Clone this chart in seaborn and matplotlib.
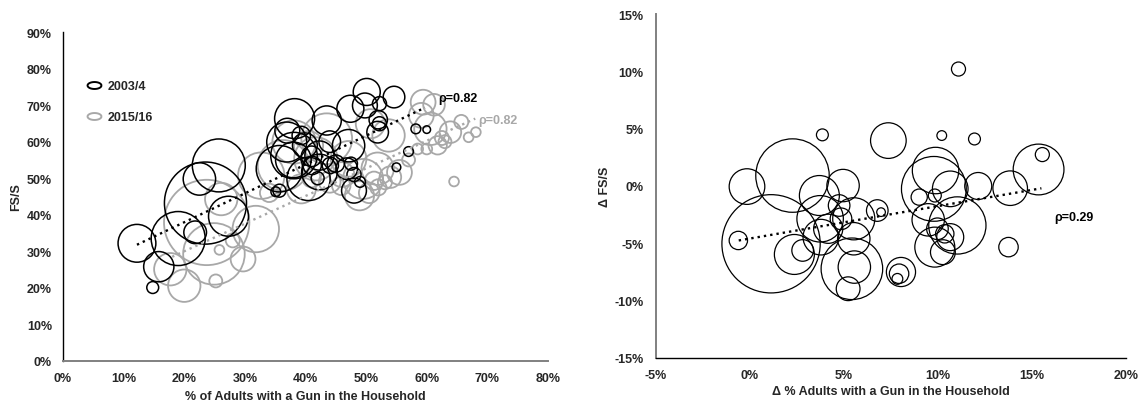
import numpy as np
import pandas as pd
import matplotlib
matplotlib.use("Agg")
import matplotlib.pyplot as plt
import seaborn as sns
from matplotlib.lines import Line2D
from matplotlib.path import Path
from matplotlib.ticker import PercentFormatter

# ---------------- data: left panel (2003/4) ----------------
gun_03 = [12.2, 15.8, 14.8, 19.0, 23.5, 22.5, 25.7, 21.8, 27.3, 38.2, 43.5, 35.7, 36.9, 38.1,
          40.5, 39.9, 35.1, 35.7, 42.3, 47.1, 47.4, 48.0, 46.8, 50.1, 49.8, 52.2, 54.6, 51.9,
          52.2, 55.0, 57.0, 58.2, 60.0, 42.3, 39.3, 41.1, 44.1, 48.0, 47.5, 41.0, 44.0, 38.0,
          45.0, 42.0, 49.0, 37.0, 52.0]
fss_03 = [32.2, 25.8, 20.1, 33.5, 43.2, 49.8, 53.5, 35.2, 39.6, 66.3, 65.8, 52.6, 59.9, 56.2,
          49.8, 59.0, 46.3, 46.6, 51.7, 58.9, 69.0, 46.6, 52.6, 73.6, 69.9, 70.4, 72.2, 62.6,
          64.9, 53.0, 57.3, 63.5, 63.3, 56.2, 61.7, 53.5, 53.5, 51.0, 54.0, 56.0, 60.0, 55.0,
          54.0, 50.0, 49.0, 63.0, 66.0]
pop_03 = [35, 28, 11, 50, 76, 30, 49, 21, 37, 37, 27, 43, 37, 43,
          40, 23, 9, 12, 33, 30, 25, 23, 20, 25, 23, 13, 20, 20,
          13, 8, 9, 9, 7, 27, 17, 17, 15, 13, 12, 19, 20, 33,
          16, 12, 10, 23, 17]

# ---------------- data: left panel (2015/16) ----------------
gun_15 = [17.7, 20.0, 23.7, 24.9, 25.8, 25.2, 31.8, 29.7, 26.1, 32.7, 38.1, 39.3, 43.5, 41.7,
          48.9, 47.1, 49.5, 51.9, 54.0, 50.7, 53.7, 55.5, 59.4, 61.2, 60.6, 61.8, 63.9, 64.5,
          65.7, 66.9, 68.1, 58.5, 51.3, 53.1, 45.9, 59.1, 36.3, 40.5, 62.5, 60.0, 63.0, 52.0,
          50.5, 46.0, 44.0, 57.0, 41.0, 28.0, 34.0]
fss_15 = [25.1, 20.6, 37.9, 29.3, 30.4, 21.9, 36.1, 27.9, 44.3, 50.7, 59.9, 47.1, 60.8, 55.3,
          45.2, 55.3, 49.8, 52.6, 50.3, 64.9, 61.7, 51.6, 70.8, 70.1, 63.5, 59.0, 62.6, 49.1,
          65.4, 61.2, 62.6, 58.0, 49.3, 48.9, 47.9, 67.2, 53.5, 58.9, 61.0, 58.0, 60.0, 47.5,
          46.0, 51.0, 49.0, 55.0, 50.0, 33.0, 46.0]
pop_15 = [30, 30, 79, 57, 9, 12, 43, 23, 30, 43, 40, 27, 47, 40,
          27, 33, 37, 30, 20, 27, 30, 23, 23, 20, 30, 17, 20, 9,
          13, 9, 9, 10, 17, 13, 17, 23, 47, 27, 13, 10, 12, 15,
          19, 23, 20, 12, 17, 13, 17]

trend_x_03 = [12.2, 59.7]
trend_y_03 = [31.8, 69.3]
trend_x_15 = [18.0, 68.0]
trend_y_15 = [28.5, 66.3]
rho_left = "\u03c1=0.82"

# ---------------- data: right panel (change) ----------------
d_gun = [11.09, 3.85, 7.36, 10.2, 11.94, 15.55, 15.35, 13.84, 12.14, 9.87, 9.78, 10.65, 9.0,
         9.83, 9.48, 11.03, 9.97, 10.36, 10.65, 9.83, 10.26, 13.75, -0.16, 2.26, 1.12, -0.62,
         2.36, 2.8, 3.69, 4.95, 3.73, 4.74, 4.16, 3.77, 4.84, 5.52, 5.52, 5.42, 5.55, 5.22,
         6.77, 6.97, 8.03, 7.93, 7.84]
d_fss = [10.2, 4.46, 3.96, 4.4, 4.1, 2.74, 1.44, -0.19, 0.0, 1.35, -0.25, -0.25, -0.97,
         -0.83, -2.95, -3.44, -3.73, -4.17, -4.46, -5.33, -5.77, -5.33, -0.05, 0.91, -5.04,
         -4.75, -5.97, -5.62, -0.83, 0.04, -2.86, -1.7, -3.73, -4.46, -2.86, -2.86, -4.6,
         -7.22, -7.07, -8.96, -2.14, -2.28, -7.5, -7.65, -8.1]
d_pop = [13, 11, 33, 9, 11, 13, 47, 32, 25, 43, 60, 33, 15,
         12, 30, 53, 20, 17, 25, 37, 23, 18, 33, 68, 91, 17,
         37, 20, 37, 30, 43, 20, 27, 33, 20, 39, 30, 57, 30, 22,
         20, 8, 27, 18, 10]
trend_dx = [-0.6, 15.5]
trend_dy = [-4.75, -0.2]
rho_right = "\u03c1=0.29"

left_xticks = [0, 10, 20, 30, 40, 50, 60, 70, 80]
left_yticks = [0, 10, 20, 30, 40, 50, 60, 70, 80, 90]
right_xticks = [-5, 0, 5, 10, 15, 20]
right_yticks = [-15, -10, -5, 0, 5, 10, 15]

# ---------------- styling ----------------
sns.set_theme(style="white")
plt.rcParams['font.family'] = ['Liberation Sans', 'DejaVu Sans']
plt.rcParams['font.weight'] = 'bold'
plt.rcParams['axes.unicode_minus'] = False

DPI = 100
FS = 9
fig = plt.figure(figsize=(11.4, 4.02), dpi=DPI)
axL = fig.add_axes([63 / 1140, 40 / 402, 485 / 1140, 329 / 402])
axR = fig.add_axes([656 / 1140, 43 / 402, 470 / 1140, 344 / 402])

GRAY = "#a8a8a8"
SPINE_GRAY = "#808080"
DOTS = (0, (1, 1.7))
SCALE = 1.08


def area(px_list):
    return [(p * SCALE * 72.0 / DPI) ** 2 for p in px_list]


df03 = pd.DataFrame({"gun": gun_03, "fss": fss_03})
df15 = pd.DataFrame({"gun": gun_15, "fss": fss_15})
dfd = pd.DataFrame({"gun": d_gun, "fss": d_fss})

sns.scatterplot(data=df15, x="gun", y="fss", s=area(pop_15), facecolors="none",
                edgecolor=GRAY, linewidth=1.3, ax=axL, zorder=2)
sns.scatterplot(data=df03, x="gun", y="fss", s=area(pop_03), facecolors="none",
                edgecolor="black", linewidth=1.1, ax=axL, zorder=3)
sns.lineplot(x=trend_x_15, y=trend_y_15, ax=axL, color=GRAY, linestyle=DOTS,
             linewidth=1.7, zorder=4)
sns.lineplot(x=trend_x_03, y=trend_y_03, ax=axL, color="black", linestyle=DOTS,
             linewidth=1.7, zorder=5)

axL.text(61.9, 71.9, rho_left, color="black", fontsize=FS, fontweight="bold", va="center")
axL.text(68.5, 65.9, rho_left, color=GRAY, fontsize=FS, fontweight="bold", va="center")

# legend with elliptical markers
theta = np.linspace(0, 2 * np.pi, 60)
ell = Path(np.column_stack([2.0 * np.cos(theta), np.sin(theta)]))
h1 = Line2D([], [], marker=ell, markersize=10, markerfacecolor="none",
            markeredgecolor="black", markeredgewidth=1.4, linestyle="none")
h2 = Line2D([], [], marker=ell, markersize=10, markerfacecolor="none",
            markeredgecolor=GRAY, markeredgewidth=1.4, linestyle="none")
axL.legend([h1, h2], ["2003/4", "2015/16"], loc="upper left",
           bbox_to_anchor=(0.035, 0.872), frameon=False, labelspacing=1.5,
           handlelength=1.2, handletextpad=0.5, borderpad=0,
           prop={"size": FS, "weight": "bold"})

axL.set_xlim(0, 80)
axL.set_ylim(0, 90)
axL.set_xticks(left_xticks)
axL.set_yticks(left_yticks)
axL.xaxis.set_major_formatter(PercentFormatter(decimals=0))
axL.yaxis.set_major_formatter(PercentFormatter(decimals=0))
axL.set_xlabel("% of Adults with a Gun in the Household", fontsize=FS,
               fontweight="bold", labelpad=4)
axL.set_ylabel("FS/S", fontsize=FS, fontweight="bold", labelpad=3)
axL.tick_params(axis="x", length=0, pad=8, labelsize=FS)
axL.tick_params(axis="y", length=0, pad=8, labelsize=FS)

sns.scatterplot(data=dfd, x="gun", y="fss", s=area(d_pop), facecolors="none",
                edgecolor="black", linewidth=0.9, ax=axR, zorder=2)
sns.lineplot(x=trend_dx, y=trend_dy, ax=axR, color="black", linestyle=DOTS,
             linewidth=1.7, zorder=4)
axR.text(16.17, -2.72, rho_right, color="black", fontsize=FS, fontweight="bold",
         va="center")

axR.set_xlim(-5, 20)
axR.set_ylim(-15, 15)
axR.set_xticks(right_xticks)
axR.set_yticks(right_yticks)
axR.xaxis.set_major_formatter(PercentFormatter(decimals=0))
axR.yaxis.set_major_formatter(PercentFormatter(decimals=0))
axR.set_xlabel("\u0394 % Adults with a Gun in the Household", fontsize=FS,
               fontweight="bold", labelpad=3)
axR.set_ylabel("\u0394 FS/S", fontsize=FS, fontweight="bold", labelpad=2)
axR.tick_params(axis="x", length=0, pad=8, labelsize=FS)
axR.tick_params(axis="y", length=0, pad=9, labelsize=FS)

for ax in (axL, axR):
    for side in ("top", "right"):
        ax.spines[side].set_visible(False)
    ax.grid(False)
    for lbl in ax.get_xticklabels() + ax.get_yticklabels():
        lbl.set_fontweight("bold")

axL.spines["left"].set_color("black")
axL.spines["left"].set_linewidth(1.0)
axL.spines["bottom"].set_color(SPINE_GRAY)
axL.spines["bottom"].set_linewidth(1.4)
axR.spines["left"].set_color(SPINE_GRAY)
axR.spines["left"].set_linewidth(1.4)
axR.spines["bottom"].set_color("black")
axR.spines["bottom"].set_linewidth(1.0)

fig.savefig("out.png", dpi=DPI)
